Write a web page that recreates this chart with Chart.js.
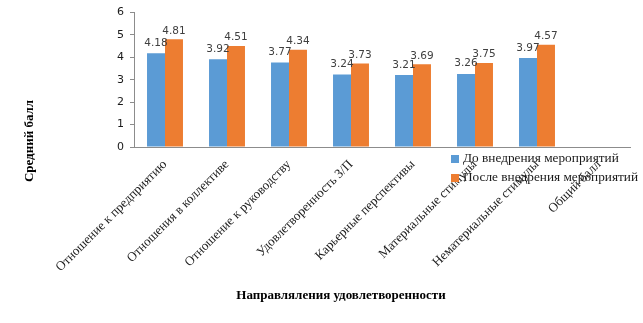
<!DOCTYPE html>
<html><head><meta charset="utf-8">
<script src="https://cdn.jsdelivr.net/npm/chart.js@4"></script>
<style>html,body{margin:0;padding:0;background:#fff}#wrap{width:643px;height:323px}</style>
</head><body><div id="wrap"><canvas id="c"></canvas></div>
<script>
const categories = ["Отношение к предприятию","Отношения в коллективе","Отношение к руководству","Удовлетворенность З/П","Карьерные перспективы","Материальные стимулы","Нематериальные стимулы","Общий балл"];
const seriesNames = ["До внедрения мероприятий","После внедрения мероприятий"];
const before = [4.18,3.92,3.77,3.24,3.21,3.26,3.97,null];
const after = [4.81,4.51,4.34,3.73,3.69,3.75,4.57,null];
const yTicks = [0,1,2,3,4,5,6];
const yTitle = "Средний балл";
const xTitle = "Направляления удовлетворенности";
const colors = ["#5B9BD5","#ED7D31"];

const extras = {
  id:'extras',
  afterDatasetsDraw(chart){
    const ctx = chart.ctx;
    ctx.save();
    ctx.font = '10.5px "DejaVu Sans", Verdana, sans-serif';
    ctx.fillStyle = '#404040';
    ctx.textAlign = 'center';
    ctx.textBaseline = 'bottom';
    chart.data.datasets.forEach((ds,i)=>{
      const meta = chart.getDatasetMeta(i);
      meta.data.forEach((bar,j)=>{
        const v = ds.data[j];
        if(v==null) return;
        ctx.fillText(v.toFixed(2), bar.x, bar.y - (i===0?5:3));
      });
    });
    ctx.restore();
  },
  afterDraw(chart){
    const ctx = chart.ctx;
    ctx.save();
    ctx.font = '13.3px "Liberation Serif", "Times New Roman", serif';
    ctx.textBaseline = 'middle';
    ctx.textAlign = 'left';
    chart.data.datasets.forEach((ds,i)=>{
      const y = 159 + i*19;
      ctx.fillStyle = ds.backgroundColor;
      ctx.fillRect(451, y-4, 8, 8);
      ctx.fillStyle = '#1a1a1a';
      ctx.fillText(ds.label, 463, y);
    });
    ctx.font = 'bold 13px "Liberation Serif", "Times New Roman", serif';
    ctx.fillStyle = '#000';
    ctx.textAlign = 'center';
    ctx.textBaseline = 'middle';
    ctx.fillText(xTitle, 341, 296);
    ctx.translate(30, 141);
    ctx.rotate(-Math.PI/2);
    ctx.fillText(yTitle, 0, 0);
    ctx.restore();
  }
};

new Chart(document.getElementById('c'), {
  type:'bar',
  data:{
    labels:categories,
    datasets:[
      {label:seriesNames[0], data:before, backgroundColor:colors[0], categoryPercentage:0.58, barPercentage:1},
      {label:seriesNames[1], data:after, backgroundColor:colors[1], categoryPercentage:0.58, barPercentage:1}
    ]
  },
  options:{
    responsive:true, maintainAspectRatio:false, animation:false,
    layout:{padding:{top:6,right:13,left:0,bottom:0}},
    plugins:{legend:{display:false}, tooltip:{enabled:false}},
    scales:{
      x:{
        afterFit(s){ s.height = 176; },
        grid:{display:false},
        border:{display:true,color:'#8c8c8c',width:1},
        ticks:{minRotation:45,maxRotation:45,autoSkip:false,padding:2,color:'#1a1a1a',
          font:{family:'"Liberation Serif", "Times New Roman", serif',size:13}}
      },
      y:{
        min:0,max:6,
        afterFit(s){ s.width = 134; },
        afterBuildTicks(s){ s.ticks = yTicks.map(v=>({value:v})); },
        grid:{drawOnChartArea:false,drawTicks:true,tickLength:4,color:'#8c8c8c'},
        border:{display:true,color:'#8c8c8c',width:1},
        ticks:{padding:6,color:'#1a1a1a',font:{family:'"DejaVu Sans", Verdana, sans-serif',size:11}}
      }
    }
  },
  plugins:[extras]
});
</script></body></html>
